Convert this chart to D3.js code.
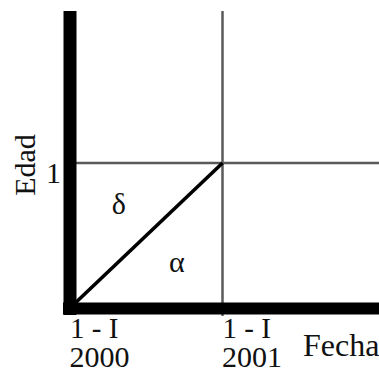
<!DOCTYPE html>
<html>
<head>
<meta charset="utf-8">
<script src="https://cdn.jsdelivr.net/npm/d3@7"></script>
<style>
  html, body { margin: 0; padding: 0; background: #fff; }
  svg { display: block; }
</style>
</head>
<body>
<svg id="chart" width="379" height="371"></svg>
<script>
// ---- data ----
const dateTicks = [0, 1];
const dateLabelsTop = ["1 - I", "1 - I"];
const dateLabelsBottom = ["2000", "2001"];
const ageTicks = [1];
const ageLabels = ["1"];
const lifeLine = [[0, 0], [1, 1]];
const regionLabels = ["δ", "α"];
const regionX = [0.32, 0.70];
const regionY = [0.648, 0.248];
const xTitle = "Fecha";
const yTitle = "Edad";

// ---- layout ----
const W = 379, H = 371;
const FONT = "'Liberation Serif', 'DejaVu Serif', serif";
const x0 = 70, x1 = 222.5, y0 = 308, y1 = 163;
const x = d3.scaleLinear().domain([0, 1]).range([x0, x1]);
const y = d3.scaleLinear().domain([0, 1]).range([y0, y1]);
const xMax = x.invert(W), yMax = y.invert(11);

const svg = d3.select("#chart")
  .attr("font-family", FONT).style("font-family", FONT);

// grid lines
svg.selectAll("line.vgrid").data(dateTicks.filter(d => d > 0)).join("line")
  .attr("x1", d => x(d)).attr("x2", d => x(d))
  .attr("y1", y(yMax)).attr("y2", y(0) + 8)
  .attr("stroke", "#5a5a5a").attr("stroke-width", 2.5);
svg.selectAll("line.hgrid").data(ageTicks).join("line")
  .attr("x1", x(0)).attr("x2", x(xMax))
  .attr("y1", d => y(d)).attr("y2", d => y(d))
  .attr("stroke", "#5a5a5a").attr("stroke-width", 2.5);

// life line (diagonal)
svg.append("path")
  .attr("d", d3.line().x(d => x(d[0])).y(d => y(d[1]))(lifeLine))
  .attr("fill", "none").attr("stroke", "#000").attr("stroke-width", 3.6);

// thick axes
svg.append("line")
  .attr("x1", x(0)).attr("x2", x(0))
  .attr("y1", y(yMax)).attr("y2", y(0) + 7)
  .attr("stroke", "#000").attr("stroke-width", 13);
svg.append("line")
  .attr("x1", x(0) - 7).attr("x2", x(xMax))
  .attr("y1", y(0) + 0.5).attr("y2", y(0) + 0.5)
  .attr("stroke", "#000").attr("stroke-width", 12);

function styleText(sel) {
  return sel.attr("font-family", FONT).style("font-family", FONT).attr("fill", "#111");
}

// x tick labels
const xl = styleText(svg.selectAll("text.xtick").data(dateTicks).join("text")
  .attr("class", "xtick")
  .attr("font-size", 29)
  .attr("text-anchor", "start"));
xl.append("tspan").attr("x", d => x(d)).attr("y", 338).text((d, i) => dateLabelsTop[i]);
xl.append("tspan").attr("x", d => x(d) - 0.5).attr("y", 367).attr("font-size", 30).text((d, i) => dateLabelsBottom[i]);

// y tick labels
styleText(svg.selectAll("text.ytick").data(ageTicks).join("text")
  .attr("class", "ytick")
  .attr("x", x(0) - 9).attr("y", d => y(d) + 20)
  .attr("font-size", 30).attr("text-anchor", "end")
  .text((d, i) => ageLabels[i]));

// region labels
styleText(svg.selectAll("text.region").data(regionLabels).join("text")
  .attr("class", "region")
  .attr("x", (d, i) => x(regionX[i])).attr("y", (d, i) => y(regionY[i]))
  .attr("font-size", 30).attr("text-anchor", "middle")
  .text(d => d));

// axis titles
styleText(svg.append("text")
  .attr("x", 303).attr("y", 356)
  .attr("font-size", 32)
  .text(xTitle));
styleText(svg.append("text")
  .attr("transform", "translate(35,165) rotate(-90)")
  .attr("font-size", 30).attr("text-anchor", "middle")
  .text(yTitle));
</script>
</body>
</html>
